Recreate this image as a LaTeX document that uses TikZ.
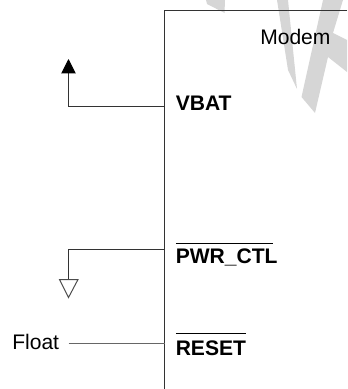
\documentclass[tikz,border=0pt]{standalone}
\usepackage{fontspec}
\setmainfont{Liberation Sans}
\usetikzlibrary{arrows.meta}
\definecolor{wm}{gray}{0.84}
\tikzset{
  x=0.75pt,y=-0.75pt,
  wire/.style={draw=black!80,line width=0.75pt},
  lbl/.style={inner sep=0pt,anchor=base west,font=\fontsize{15.8pt}{18pt}\selectfont},
  pin/.style={lbl,font=\fontsize{15.8pt}{18pt}\selectfont\bfseries}
}
\newcommand{\ovl}[2]{\rlap{\rule[#2]{#1}{0.9pt}}}
\begin{document}
\begin{tikzpicture}
\useasboundingbox (0,0) rectangle (347,389);
\fill[wm] (206,0) -- (225,0) -- (224.5,13) -- (207,4) -- cycle;
\fill[wm] (277,0) -- (288,70) -- (297,89) -- (288,0) -- cycle;
\fill[wm] (323,0) -- (301.5,97) -- (315,113) -- (328,57) -- (347,72) -- (347,40) -- (333,33) -- (343,0) -- cycle;
\coordinate (boxtl) at (164.5,10.5);
\coordinate (boxtr) at (347,10.5);
\coordinate (boxbl) at (164.5,389);
\draw[wire] (boxtr) -- (boxtl) -- (boxbl);
\node[lbl] (modem) at (260,44) {Modem};
\node[pin] (vbat) at (175.5,110) {VBAT};
\node[pin] (pwr) at (175.5,263.3) {\ovl{73pt}{14.6pt}PWR\_CTL};
\node[pin] (rst) at (175.5,355) {\ovl{53pt}{15.8pt}RESET};
\node[lbl] (float) at (12,349) {Float};
\coordinate (v1) at (164.5,106.5);
\coordinate (v2) at (68.5,106.5);
\coordinate (v3) at (68.5,59);
\draw[wire,-{Triangle[length=10.7pt,width=10.7pt,black]}] (v1) -- (v2) -- (v3);
\coordinate (p1) at (164.5,249.8);
\coordinate (p2) at (68.5,249.8);
\coordinate (p3) at (68.5,279.5);
\draw[wire] (p1) -- (p2) -- (p3);
\draw[wire,draw=black!70] (59.5,279.5) -- (78,279.5) -- (68.5,297.5) -- cycle;
\coordinate (f1) at (68.5,343);
\coordinate (f2) at (164.5,343);
\draw[wire,draw=black!60] (f1) -- (f2);
\end{tikzpicture}
\end{document}
